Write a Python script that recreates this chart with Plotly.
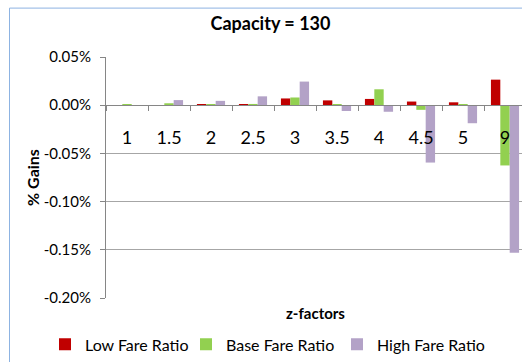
import plotly.graph_objects as go

# z-factor categories and % gains (in percent) for each fare-ratio scenario
z_factors = ["1", "1.5", "2", "2.5", "3", "3.5", "4", "4.5", "5", "9"]
low_fare = [0.0000, 0.0000, 0.0010, 0.0003, 0.0070, 0.0050, 0.0065, 0.0038, 0.0030, 0.0265]
base_fare = [0.0005, 0.0020, 0.0005, 0.0013, 0.0080, 0.0003, 0.0165, -0.0048, 0.0008, -0.0625]
high_fare = [0.0002, 0.0053, 0.0045, 0.0092, 0.0245, -0.0060, -0.0068, -0.0595, -0.0187, -0.1530]

series_names = ["Low Fare Ratio", "Base Fare Ratio", "High Fare Ratio"]
series_colors = ["#C00000", "#92D050", "#B3A2C7"]
y_ticks = [0.05, 0.00, -0.05, -0.10, -0.15, -0.20]
y_tick_labels = ["%.2f%%" % v for v in y_ticks]

W, H = 522, 362
L, R, T, B = 106, 0, 57, 61
plot_w = W - L - R
plot_h = H - T - B

FONT = "Lato"
GRID = "#A6A6A6"
AXIS = "#868686"
BORDER = "#8DB3E2"


def px_x(px):
    return (px - L) / plot_w


def px_y(py):
    return (H - B - py) / plot_h


# one legend box per series so each entry sits at its own spot along the bottom
legend_ids = ["legend", "legend2", "legend3"]
legend_left = [45, 186, 337]

fig = go.Figure()
for name, color, vals, lid in zip(series_names, series_colors,
                                  [low_fare, base_fare, high_fare], legend_ids):
    fig.add_trace(go.Bar(
        x=z_factors,
        y=[v / 100 for v in vals],
        name=name,
        legend=lid,
        marker=dict(color=color, line=dict(width=0)),
    ))

legend_style = dict(
    orientation="h",
    yanchor="middle",
    font=dict(family=FONT, size=16, color="#000000"),
    bgcolor="rgba(0,0,0,0)",
    itemsizing="constant",
)

ymin, ymax = y_ticks[-1] / 100, y_ticks[0] / 100
zero_pos = (0 - ymin) / (ymax - ymin)

fig.update_layout(
    width=W, height=H,
    margin=dict(l=L, r=R, t=T, b=B, pad=0),
    paper_bgcolor="white", plot_bgcolor="white",
    barmode="group", bargap=0.33, bargroupgap=0,
    font=dict(family=FONT, color="#000000"),
    title=dict(
        text="<b>Capacity = 130</b>",
        font=dict(family=FONT, size=18, color="#000000"),
        xref="paper", x=px_x(270.5), xanchor="center",
        yref="container", y=1 - 24 / H, yanchor="middle",
    ),
    xaxis=dict(
        type="category",
        range=[-0.5, len(z_factors) - 0.5 - 4 / 42],
        anchor="free", position=zero_pos,
        showline=True, linecolor=AXIS, linewidth=1,
        ticks="outside", tickson="boundaries", ticklen=5, tickcolor=AXIS,
        tickfont=dict(family=FONT, size=18, color="#000000"),
        ticklabelstandoff=16,
        showgrid=False, zeroline=False,
    ),
    yaxis=dict(
        range=[ymin, ymax],
        tickmode="array",
        tickvals=[v / 100 for v in y_ticks],
        ticktext=y_tick_labels,
        tickfont=dict(family=FONT, size=15, color="#000000"),
        ticks="outside", ticklen=5, tickcolor=AXIS,
        ticklabelstandoff=6,
        showline=True, linecolor=AXIS, linewidth=1,
        showgrid=True, gridcolor=GRID, gridwidth=1,
        zeroline=False,
        title=dict(text="<b>% Gains</b>", font=dict(family=FONT, size=16, color="#000000"), standoff=0),
    ),
    showlegend=True,
)
for lid, left in zip(legend_ids, legend_left):
    fig.update_layout({lid: dict(legend_style, x=px_x(left), xanchor="left", y=px_y(348))})

# x-axis title sits below the plot area, away from the zero-anchored axis
fig.add_annotation(
    text="<b>z-factors</b>",
    xref="paper", yref="paper",
    x=px_x(315.5), y=px_y(316),
    xanchor="center", yanchor="middle",
    showarrow=False,
    font=dict(family=FONT, size=15, color="#000000"),
)

# chart-area border (left and top edges)
fig.add_shape(type="line", xref="paper", yref="paper",
              x0=px_x(9.5), x1=px_x(9.5), y0=px_y(7.5), y1=px_y(H + 5),
              line=dict(color=BORDER, width=1))
fig.add_shape(type="line", xref="paper", yref="paper",
              x0=px_x(9.5), x1=px_x(W + 5), y0=px_y(7.5), y1=px_y(7.5),
              line=dict(color=BORDER, width=1))

fig.write_html("out.html")
